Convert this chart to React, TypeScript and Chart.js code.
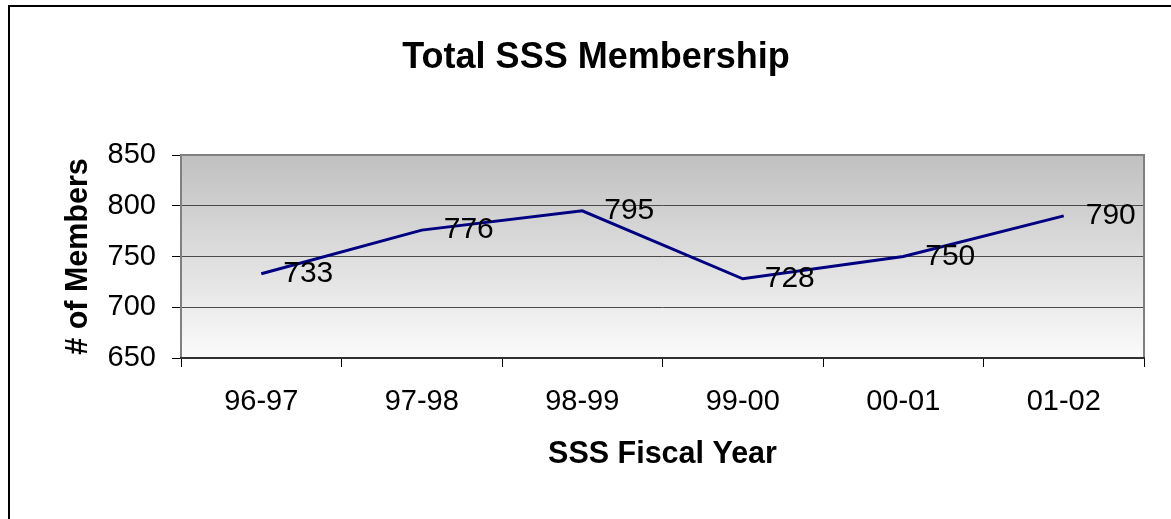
import React, { useEffect, useRef } from "react";
import { Chart, registerables } from "chart.js";

Chart.register(...registerables);

const categories = ["96-97", "97-98", "98-99", "99-00", "00-01", "01-02"];
const members = [733, 776, 795, 728, 750, 790];
const yMin = 650;
const yMax = 850;
const yStep = 50;
const chartTitle = "Total SSS Membership";
const xTitle = "SSS Fiscal Year";
const yTitle = "# of Members";

const FONT = "'Liberation Sans', Arial, sans-serif";

const framePlugin = {
  id: "frame",
  beforeDraw(chart: any) {
    const { ctx, chartArea } = chart;
    ctx.save();
    ctx.fillStyle = "#ffffff";
    ctx.fillRect(0, 0, chart.width, chart.height);
    ctx.fillStyle = "#000000";
    ctx.fillRect(8, 5, chart.width - 8, 2);
    ctx.fillRect(8, 5, 2, chart.height);
    const g = ctx.createLinearGradient(0, chartArea.top, 0, chartArea.bottom);
    g.addColorStop(0, "#c0c0c0");
    g.addColorStop(1, "#fbfbfb");
    ctx.fillStyle = g;
    ctx.fillRect(chartArea.left, chartArea.top, chartArea.right - chartArea.left, chartArea.bottom - chartArea.top);
    ctx.restore();
  },
  afterDatasetsDraw(chart: any) {
    const { ctx } = chart;
    const meta = chart.getDatasetMeta(0);
    ctx.save();
    ctx.font = `30px ${FONT}`;
    ctx.fillStyle = "#000000";
    ctx.textAlign = "left";
    ctx.textBaseline = "middle";
    meta.data.forEach((pt: any, i: number) => {
      ctx.fillText(String(members[i]), pt.x + 22, pt.y);
    });
    ctx.restore();
  },
  afterDraw(chart: any) {
    const { ctx, chartArea } = chart;
    ctx.save();
    ctx.strokeStyle = "#808080";
    ctx.lineWidth = 2;
    ctx.strokeRect(chartArea.left, chartArea.top, chartArea.right - chartArea.left, chartArea.bottom - chartArea.top);
    ctx.strokeStyle = "#303030";
    ctx.beginPath();
    ctx.moveTo(chartArea.left - 1, chartArea.bottom);
    ctx.lineTo(chartArea.right + 1, chartArea.bottom);
    ctx.stroke();
    ctx.restore();
  },
};

export default function App() {
  const ref = useRef<HTMLCanvasElement | null>(null);
  useEffect(() => {
    if (!ref.current) return;
    const chart = new Chart(ref.current, {
      type: "line",
      data: {
        labels: categories,
        datasets: [
          {
            data: members,
            borderColor: "#000080",
            borderWidth: 3,
            pointRadius: 0,
            tension: 0,
            fill: false,
          },
        ],
      },
      options: {
        responsive: false,
        animation: false,
        layout: { padding: { left: 48, top: 0, right: 27, bottom: 0 } },
        plugins: {
          legend: { display: false },
          tooltip: { enabled: false },
          title: {
            display: true,
            text: chartTitle,
            color: "#000000",
            font: { family: FONT, size: 36, weight: "bold", lineHeight: 1.2 },
            padding: { top: 36, bottom: 75.8 },
          },
        },
        scales: {
          x: {
            type: "category",
            offset: true,
            grid: {
              offset: true,
              drawOnChartArea: false,
              drawTicks: true,
              tickLength: 9,
              tickColor: "#000000",
            },
            border: { display: false },
            ticks: {
              color: "#000000",
              font: { family: FONT, size: 29 },
              padding: 18,
              maxRotation: 0,
              autoSkip: false,
            },
            title: {
              display: true,
              text: xTitle,
              color: "#000000",
              font: { family: FONT, size: 30.5, weight: "bold", lineHeight: 1.2 },
              padding: { top: 0, bottom: 46 },
            },
            afterFit(scale: any) {
              scale.height = 161;
            },
          },
          y: {
            min: yMin,
            max: yMax,
            grid: {
              color: "#4a4a4a",
              lineWidth: 1,
              drawTicks: true,
              tickLength: 9,
              tickColor: "#000000",
            },
            border: { display: false },
            ticks: {
              stepSize: yStep,
              color: "#000000",
              font: { family: FONT, size: 29 },
              padding: 16,
            },
            title: {
              display: true,
              text: yTitle,
              color: "#000000",
              font: { family: FONT, size: 30.5, weight: "bold", lineHeight: 1.2 },
              padding: { top: 12, bottom: 0 },
            },
            afterFit(scale: any) {
              scale.width = 133;
            },
          },
        },
      },
      plugins: [framePlugin],
    });
    return () => chart.destroy();
  }, []);
  return (
    <div style={{ position: "fixed", left: 0, top: 0, width: 1171, height: 519 }}>
      <canvas ref={ref} width={1171} height={519} style={{ display: "block" }} />
    </div>
  );
}
